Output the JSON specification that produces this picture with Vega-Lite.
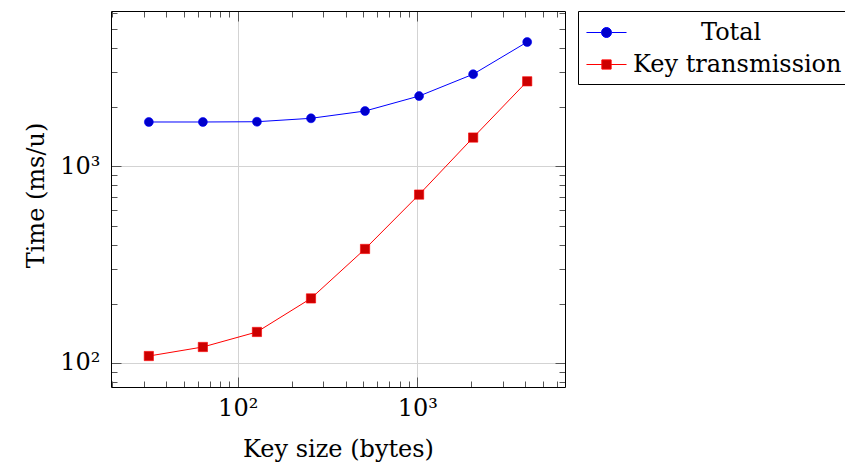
{
  "$schema": "https://vega.github.io/schema/vega-lite/v6.json",
  "width": 454,
  "height": 376,
  "autosize": {"type": "none"},
  "padding": {"left": 111, "top": 11, "right": 280, "bottom": 83},
  "background": "white",
  "config": {
    "font": "DejaVu Serif",
    "view": {"stroke": null},
    "axis": {
      "domainColor": "#000",
      "domainWidth": 1,
      "tickColor": "#555",
      "tickWidth": 1,
      "labelFont": "DejaVu Serif",
      "labelFontSize": 24,
      "labelColor": "#000",
      "titleFont": "DejaVu Serif",
      "titleFontSize": 24,
      "titleFontWeight": "normal",
      "titleColor": "#000",
      "labelOverlap": false,
      "labelFlush": false,
      "labelBound": false
    },
    "legend": {
      "orient": "none",
      "legendX": 467,
      "legendY": 0,
      "title": null,
      "strokeColor": "#000",
      "fillColor": "#fff",
      "padding": 7,
      "symbolSize": 784,
      "symbolStrokeWidth": 1,
      "symbolOpacity": 1,
      "labelFont": "DejaVu Serif",
      "labelFontSize": 24,
      "labelColor": "#000",
      "labelOffset": 19,
      "labelLimit": 0,
      "rowPadding": 5
    }
  },
  "data": {
    "values": [
      {"size": 32, "series": "Total", "time": 1680},
      {"size": 64, "series": "Total", "time": 1680},
      {"size": 128, "series": "Total", "time": 1685},
      {"size": 256, "series": "Total", "time": 1754},
      {"size": 512, "series": "Total", "time": 1910},
      {"size": 1024, "series": "Total", "time": 2276},
      {"size": 2048, "series": "Total", "time": 2939},
      {"size": 4096, "series": "Total", "time": 4285},
      {"size": 32, "series": "Key transmission", "time": 108.5},
      {"size": 64, "series": "Key transmission", "time": 120.6},
      {"size": 128, "series": "Key transmission", "time": 143.8},
      {"size": 256, "series": "Key transmission", "time": 213},
      {"size": 512, "series": "Key transmission", "time": 380},
      {"size": 1024, "series": "Key transmission", "time": 718},
      {"size": 2048, "series": "Key transmission", "time": 1400},
      {"size": 4096, "series": "Key transmission", "time": 2704}
    ]
  },
  "layer": [
    {
      "mark": {"type": "line", "strokeWidth": 1},
      "encoding": {
        "x": {
          "field": "size", "type": "quantitative",
          "scale": {"type": "log", "domain": [19.7, 6651], "nice": false},
          "axis": {
            "orient": "bottom",
            "title": "Key size (bytes)",
            "titleBaseline": "alphabetic",
            "titleX": 227,
            "titleY": 69,
            "values": [20,30,40,50,60,70,80,90,100,200,300,400,500,600,700,800,900,1000,2000,3000,4000,5000,6000],
            "labelExpr": "datum.value == 100 ? '10²' : (datum.value == 1000 ? '10³' : '')",
            "labelPadding": 19,
            "grid": true,
            "gridColor": "#d3d3d3",
            "gridWidth": 1,
            "gridOpacity": {"condition": {"test": "datum.value == 100 || datum.value == 1000", "value": 1}, "value": 0},
            "tickSize": {"condition": {"test": "datum.value == 100 || datum.value == 1000", "value": -10}, "value": -6}
          }
        },
        "y": {
          "field": "time", "type": "quantitative",
          "scale": {"type": "log", "domain": [75.5, 6160], "nice": false},
          "axis": {
            "orient": "left",
            "title": "Time (ms/u)",
            "titleBaseline": "alphabetic",
            "titleAngle": -90,
            "titleX": -68,
            "titleY": 184,
            "values": [80,90,100,200,300,400,500,600,700,800,900,1000,2000,3000,4000,5000,6000],
            "labelExpr": "datum.value == 100 ? '10²' : (datum.value == 1000 ? '10³' : '')",
            "labelPadding": 21,
            "grid": true,
            "gridColor": "#d3d3d3",
            "gridWidth": 1,
            "gridOpacity": {"condition": {"test": "datum.value == 100 || datum.value == 1000", "value": 1}, "value": 0},
            "tickSize": {"condition": {"test": "datum.value == 100 || datum.value == 1000", "value": -10}, "value": -6}
          }
        },
        "color": {
          "field": "series", "type": "nominal",
          "scale": {"domain": ["Total", "Key transmission"], "range": ["#0000ff", "#ff0000"]},
          "legend": null
        }
      }
    },
    {
      "mark": {"type": "point", "filled": true, "opacity": 1, "strokeWidth": 0.6},
      "encoding": {
        "x": {
          "field": "size", "type": "quantitative",
          "axis": {
            "orient": "top",
            "title": null,
            "values": [20,30,40,50,60,70,80,90,100,200,300,400,500,600,700,800,900,1000,2000,3000,4000,5000,6000],
            "labels": false,
            "grid": false,
            "tickSize": {"condition": {"test": "datum.value == 100 || datum.value == 1000", "value": -10}, "value": -6}
          }
        },
        "y": {
          "field": "time", "type": "quantitative",
          "axis": {
            "orient": "right",
            "title": null,
            "values": [80,90,100,200,300,400,500,600,700,800,900,1000,2000,3000,4000,5000,6000],
            "labels": false,
            "grid": false,
            "tickSize": {"condition": {"test": "datum.value == 100 || datum.value == 1000", "value": -10}, "value": -6}
          }
        },
        "fill": {
          "field": "series", "type": "nominal",
          "scale": {"domain": ["Total", "Key transmission"], "range": ["#0000cc", "#cc0000"]},
          "legend": null
        },
        "stroke": {
          "field": "series", "type": "nominal",
          "scale": {"domain": ["Total", "Key transmission"], "range": ["#0000ff", "#ff0000"]},
          "legend": null
        },
        "shape": {
          "field": "series", "type": "nominal",
          "scale": {"domain": ["Total", "Key transmission"], "range": ["circle", "square"]},
          "legend": null
        },
        "size": {
          "field": "series", "type": "nominal",
          "scale": {"domain": ["Total", "Key transmission"], "range": [80, 86]},
          "legend": null
        }
      }
    },
    {
      "mark": {"type": "point", "filled": true, "opacity": 0},
      "encoding": {
        "x": {"field": "size", "type": "quantitative", "axis": null},
        "y": {"field": "time", "type": "quantitative", "axis": null},
        "shape": {
          "field": "series", "type": "nominal",
          "scale": {"domain": ["Total", "Key transmission"], "range": [
            "M-0.93,0H0.143M0.857,0H1.93M0.857,0A0.357,0.357 0 1,1 0.143,0A0.357,0.357 0 1,1 0.857,0Z",
            "M-0.93,0H0.17M0.83,0H1.93M0.17,-0.33H0.83V0.33H0.17Z"
          ]},
          "legend": {
            "encode": {
              "labels": {"update": {"dx": {"signal": "datum.value === 'Total' ? 68 : 0"}}}
            }
          }
        },
        "fill": {
          "field": "series", "type": "nominal",
          "scale": {"domain": ["Total", "Key transmission"], "range": ["#0000cc", "#cc0000"]},
          "legend": {
            "encode": {
              "labels": {"update": {"dx": {"signal": "datum.value === 'Total' ? 68 : 0"}}}
            }
          }
        },
        "stroke": {
          "field": "series", "type": "nominal",
          "scale": {"domain": ["Total", "Key transmission"], "range": ["#0000ff", "#ff0000"]},
          "legend": {
            "encode": {
              "labels": {"update": {"dx": {"signal": "datum.value === 'Total' ? 68 : 0"}}}
            }
          }
        }
      }
    }
  ],
  "resolve": {
    "axis": {"x": "independent", "y": "independent"},
    "scale": {"shape": "independent", "fill": "independent", "stroke": "independent"},
    "legend": {"shape": "independent", "fill": "independent", "stroke": "independent"}
  }
}
